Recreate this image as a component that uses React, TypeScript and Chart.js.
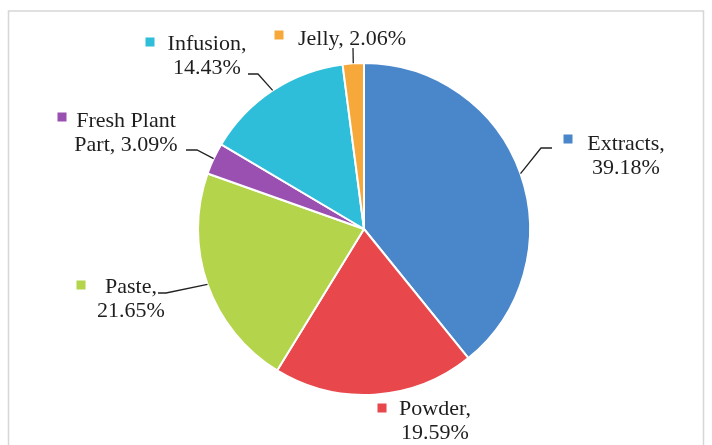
import React, { useEffect, useRef } from "react";
import { Chart, registerables } from "chart.js";

Chart.register(...registerables);

const categories = ["Extracts", "Powder", "Paste", "Fresh Plant Part", "Infusion", "Jelly"];
const values = [39.18, 19.59, 21.65, 3.09, 14.43, 2.06];
const colors = ["#4A86CA", "#E8474B", "#B4D44B", "#9A50B0", "#2EBED9", "#F7A83A"];

// label text lines for each slice (as printed in the chart)
const labelLines = [
  ["Extracts,", "39.18%"],
  ["Powder,", "19.59%"],
  ["Paste,", "21.65%"],
  ["Fresh Plant", "Part, 3.09%"],
  ["Infusion,", "14.43%"],
  ["Jelly, 2.06%"],
];

// layout of labels: text centre x, first baseline y, marker centre, leader path (elbow, end) or null
type Layout = {
  cx: number;
  y: number;
  mx: number;
  my: number;
  leader: number[][] | null;
};
const labelLayout: Layout[] = [
  { cx: 626, y: 150, mx: 568, my: 139, leader: [[541, 148], [552, 148]] },
  { cx: 435, y: 415, mx: 382, my: 408, leader: null },
  { cx: 131, y: 293, mx: 81, my: 285, leader: [[166, 293], [158, 293]] },
  { cx: 126, y: 127, mx: 62, my: 117, leader: [[197, 150], [186, 150]] },
  { cx: 207, y: 50, mx: 150, my: 42, leader: [[258, 74], [248, 74]] },
  { cx: 352, y: 45, mx: 279, my: 35, leader: [[353, 48]] },
];

const FONT = '22px "Liberation Serif", "Times New Roman", serif';

const overlay = {
  id: "overlay",
  afterDraw(chart: any) {
    const ctx = chart.ctx as CanvasRenderingContext2D;
    ctx.save();
    // frame
    ctx.strokeStyle = "#d6d6d6";
    ctx.lineWidth = 1.5;
    ctx.strokeRect(8.5, 11, 695, 460);

    const arcs = chart.getDatasetMeta(0).data;
    arcs.forEach((arc: any, i: number) => {
      const lay = labelLayout[i];
      const mid = (arc.startAngle + arc.endAngle) / 2;
      const sx = arc.x + Math.cos(mid) * arc.outerRadius;
      const sy = arc.y + Math.sin(mid) * arc.outerRadius;
      if (lay.leader) {
        ctx.strokeStyle = "#222";
        ctx.lineWidth = 1.3;
        ctx.beginPath();
        ctx.moveTo(sx, sy);
        lay.leader.forEach((p) => ctx.lineTo(p[0], p[1]));
        ctx.stroke();
      }
      ctx.fillStyle = colors[i];
      ctx.fillRect(lay.mx - 4.5, lay.my - 4.5, 9, 9);
      ctx.fillStyle = "#1e1e1e";
      ctx.font = FONT;
      ctx.textAlign = "center";
      ctx.textBaseline = "alphabetic";
      labelLines[i].forEach((line, k) => {
        ctx.fillText(line, lay.cx, lay.y + k * 24);
      });
    });
    ctx.restore();
  },
};

export default function App() {
  const ref = useRef<HTMLCanvasElement | null>(null);
  useEffect(() => {
    document.body.style.margin = "0";
    const canvas = ref.current!;
    const chart = new Chart(canvas, {
      type: "pie",
      data: {
        labels: categories,
        datasets: [
          {
            data: values,
            backgroundColor: colors,
            borderColor: "#ffffff",
            borderWidth: 2,
          },
        ],
      },
      options: {
        animation: false,
        responsive: false,
        devicePixelRatio: 1,
        layout: { padding: { top: 62, bottom: 49, left: 197, right: 181 } },
        plugins: {
          legend: { display: false },
          tooltip: { enabled: false },
        },
      },
      plugins: [overlay],
    });
    return () => chart.destroy();
  }, []);
  return (
    <div style={{ width: 712, height: 445, background: "#fff" }}>
      <canvas ref={ref} width={712} height={445} style={{ display: "block" }} />
    </div>
  );
}
